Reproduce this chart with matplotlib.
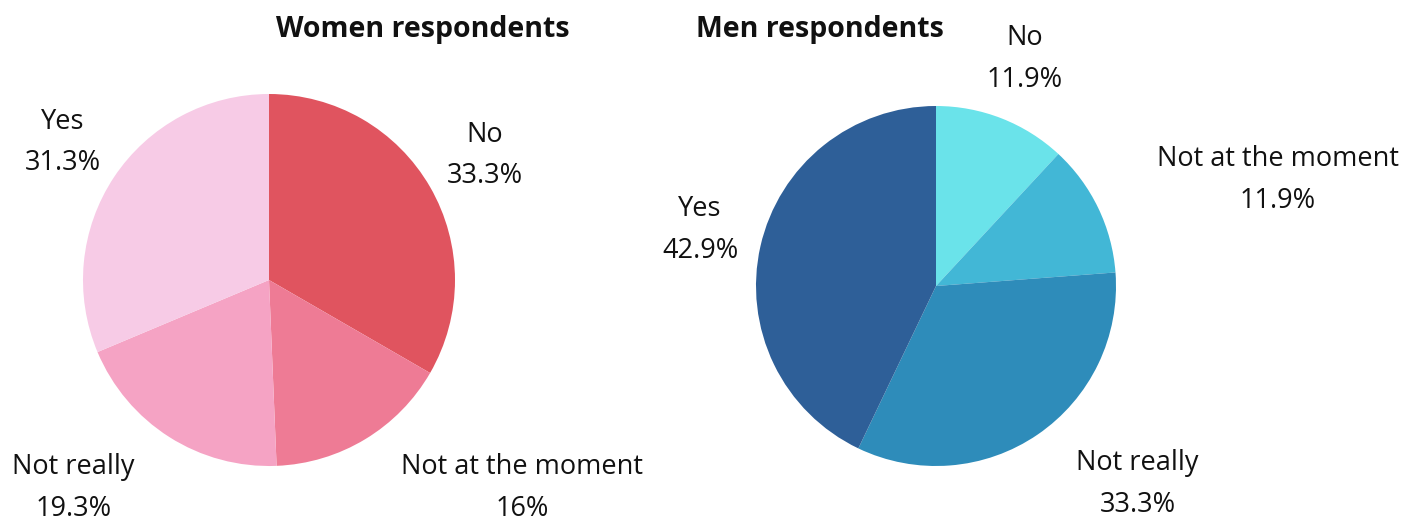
import matplotlib.pyplot as plt

# Survey answers, by gender (percent)
labels = ['No', 'Not at the moment', 'Not really', 'Yes']
women_values = [33.3, 16, 19.3, 31.3]
men_values = [11.9, 11.9, 33.3, 42.9]
women_pct_text = ['33.3%', '16%', '19.3%', '31.3%']
men_pct_text = ['11.9%', '11.9%', '33.3%', '42.9%']

women_colors = ['#E0545F', '#EE7B95', '#F5A3C4', '#F7CBE6']
men_colors = ['#6AE3EA', '#42B7D6', '#2E8CBA', '#2E5F98']

# label positions in units of pie radius
women_label_pos = [(1.16, 0.67), (1.36, -1.12), (-1.05, -1.12), (-1.11, 0.74)]
men_label_pos = [(0.49, 1.26), (1.90, 0.59), (1.12, -1.10), (-1.31, 0.31)]

plt.rcParams['font.family'] = ['Open Sans', 'DejaVu Sans']

W, H = 1419, 523
fig = plt.figure(figsize=(W / 100, H / 100), dpi=100)


def draw_pie(cx, cy, r, values, colors, pct_text, label_pos, title, title_xy):
    ax = fig.add_axes([(cx - r) / W, (H - cy - r) / H, 2 * r / W, 2 * r / H])
    ax.pie(values, colors=colors, startangle=90, counterclock=False, radius=1,
           wedgeprops=dict(linewidth=0))
    ax.set_xlim(-1, 1)
    ax.set_ylim(-1, 1)
    ax.set_aspect('equal')
    ax.axis('off')
    for lab, pct, (x, y) in zip(labels, pct_text, label_pos):
        ax.text(x, y, f'{lab}\n{pct}', ha='center', va='center', fontsize=19.5,
                linespacing=1.65, color='#111111', clip_on=False)
    fig.text(title_xy[0] / W, 1 - title_xy[1] / H, title, ha='center', va='center',
             fontsize=20.5, fontweight='bold', color='#111111')


draw_pie(269, 280, 186, women_values, women_colors, women_pct_text,
         women_label_pos, 'Women respondents', (423, 30))
draw_pie(936, 286, 180, men_values, men_colors, men_pct_text,
         men_label_pos, 'Men respondents', (820, 30))

fig.savefig('out.png', dpi=100, facecolor='white')
